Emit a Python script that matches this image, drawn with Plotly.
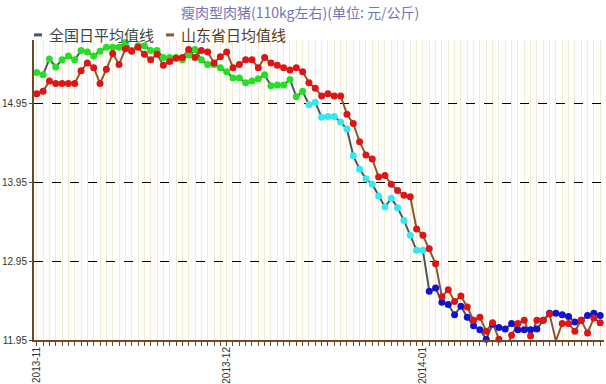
import pandas as pd
import plotly.graph_objects as go

# ---------------- data ----------------
start_date = "2013-11-01"
n_days = 90
dates = pd.date_range(start_date, periods=n_days, freq="D")

national = [
    15.35, 15.32, 15.52, 15.42, 15.51, 15.56, 15.51, 15.63, 15.61, 15.56,
    15.62, 15.67, 15.67, 15.67, 15.73, 15.63, 15.69, 15.69, 15.63, 15.63,
    15.54, 15.54, 15.54, 15.51, 15.57, 15.64, 15.51, 15.45, 15.45, 15.41,
    15.36, 15.28, 15.28, 15.22, 15.24, 15.27, 15.32, 15.18, 15.19, 15.19,
    15.26, 15.04, 15.11, 14.94, 14.97, 14.78, 14.79, 14.79, 14.72, 14.63,
    14.29, 14.12, 14.00, 13.93, 13.78, 13.64, 13.75, 13.63, 13.47, 13.28,
    13.09, 13.09, 12.57, 12.61, 12.43, 12.40, 12.27, 12.38, 12.24, 12.13,
    12.08, 11.96, 12.15, 12.11, 12.09, 12.16, 12.08, 12.08, 12.08, 12.09,
    12.20, 12.29, 12.29, 12.27, 12.25, 12.18, 12.20, 12.26, 12.29, 12.26,
]

shandong = [
    15.08, 15.11, 15.24, 15.21, 15.21, 15.21, 15.21, 15.37, 15.47, 15.41,
    15.21, 15.39, 15.59, 15.45, 15.65, 15.62, 15.67, 15.58, 15.51, 15.58,
    15.44, 15.49, 15.53, 15.54, 15.64, 15.54, 15.63, 15.61, 15.47, 15.55,
    15.61, 15.41, 15.45, 15.51, 15.51, 15.41, 15.54, 15.47, 15.44, 15.41,
    15.38, 15.41, 15.36, 15.22, 15.15, 15.05, 15.08, 15.05, 15.05, 14.82,
    14.70, 14.47, 14.30, 14.25, 14.02, 14.04, 13.93, 13.85, 13.79, 13.77,
    13.36, 13.28, 13.11, 12.92, 12.50, 12.59, 12.44, 12.51, 12.37, 12.20,
    12.24, 12.06, 12.17, 11.96, 11.80, 12.01, 12.16, 12.20, 12.00, 12.20,
    12.20, 12.28, 11.94, 12.16, 12.16, 12.06, 12.20, 12.04, 12.23, 12.17,
]

y_ticks = [11.95, 12.95, 13.95, 14.95]
y_tick_labels = ["11.95", "12.95", "13.95", "14.95"]
x_ticks = ["2013-11-01", "2013-12-01", "2014-01-01"]
x_tick_labels = ["2013-11", "2013-12", "2014-01"]

title_text = "瘦肉型肉猪(110kg左右)(单位: 元/公斤)"
legend_national = "全国日平均值线"
legend_shandong = "山东省日均值线"

# ---------------- styling ----------------
BROWN = "#6b4a2a"
NAT_LINE = "#4a5858"
SD_LINE = "#8b5a2b"
GRID_V = "#f1ecd2"
FONT = "Noto Sans CJK SC"

def nat_color(v):
    if v >= 15.0:
        return "#22e022"
    if v >= 13.0:
        return "#33e8f2"
    return "#1212cc"

nat_colors = [nat_color(v) for v in national]

fig = go.Figure()
fig.add_trace(go.Scatter(x=dates, y=national, mode="lines",
                         line=dict(color=NAT_LINE, width=2),
                         showlegend=False, hoverinfo="skip"))
fig.add_trace(go.Scatter(x=dates, y=shandong, mode="lines",
                         line=dict(color=SD_LINE, width=2),
                         showlegend=False, hoverinfo="skip"))
fig.add_trace(go.Scatter(x=dates, y=national, mode="markers",
                         marker=dict(color=nat_colors, size=7, line=dict(width=0)),
                         cliponaxis=False, showlegend=False,
                         name=legend_national))
fig.add_trace(go.Scatter(x=dates, y=shandong, mode="markers",
                         marker=dict(color="#e01414", size=7, line=dict(width=0)),
                         cliponaxis=False, showlegend=False,
                         name=legend_shandong))

fig.update_layout(
    width=606, height=384,
    margin=dict(l=34, r=2, t=40, b=44),
    paper_bgcolor="white", plot_bgcolor="white",
    font=dict(family=FONT, color="#333333"),
    xaxis=dict(
        type="date", automargin=False,
        range=["2013-10-31 13:40", "2014-01-29 14:24"],
        tickmode="array", tickvals=x_ticks, ticktext=x_tick_labels,
        tickangle=-90, tickfont=dict(size=10, color="#333333", family="Liberation Sans"),
        ticklabelstandoff=-3,
        ticks="outside", ticklen=4, tickcolor=BROWN, tickwidth=1,
        showline=True, linecolor=BROWN, linewidth=2,
        showgrid=True, gridcolor=GRID_V, gridwidth=1,
        zeroline=False,
        minor=dict(dtick=86400000, tick0=start_date, ticks="outside", ticklen=4,
                   tickcolor=BROWN, tickwidth=1,
                   showgrid=True, gridcolor=GRID_V, gridwidth=1),
    ),
    yaxis=dict(
        automargin=False,
        range=[11.95, 15.762],
        tickmode="array", tickvals=y_ticks, ticktext=y_tick_labels,
        tickfont=dict(size=10, color="#333333", family="Liberation Sans"),
        ticks="outside", ticklen=3, tickcolor=BROWN,
        showline=True, linecolor=BROWN, linewidth=2,
        showgrid=True, gridcolor="#000000", griddash="dash", gridwidth=1,
        zeroline=False,
    ),
    annotations=[
        dict(text=title_text, xref="paper", yref="paper", x=0.4667, y=1.092,
             xanchor="center", yanchor="middle", showarrow=False,
             font=dict(size=14, color="#7474b8", family=FONT)),
        dict(text=legend_national, xref="paper", yref="paper", x=0.0228, y=1.017,
             xanchor="left", yanchor="middle", showarrow=False,
             font=dict(size=15, color="#3a4848", family=FONT)),
        dict(text=legend_shandong, xref="paper", yref="paper", x=0.254, y=1.017,
             xanchor="left", yanchor="middle", showarrow=False,
             font=dict(size=15, color="#5a3a14", family=FONT)),
    ],
    shapes=[
        dict(type="line", xref="paper", yref="paper", x0=0.0, x1=0.014,
             y0=1.017, y1=1.017, line=dict(color=NAT_LINE, width=3)),
        dict(type="line", xref="paper", yref="paper", x0=0.2316, x1=0.2456,
             y0=1.017, y1=1.017, line=dict(color=SD_LINE, width=3)),
    ],
)

fig.write_html("out.html", config={"displayModeBar": False},
               post_script="document.body.style.margin='0px';")
